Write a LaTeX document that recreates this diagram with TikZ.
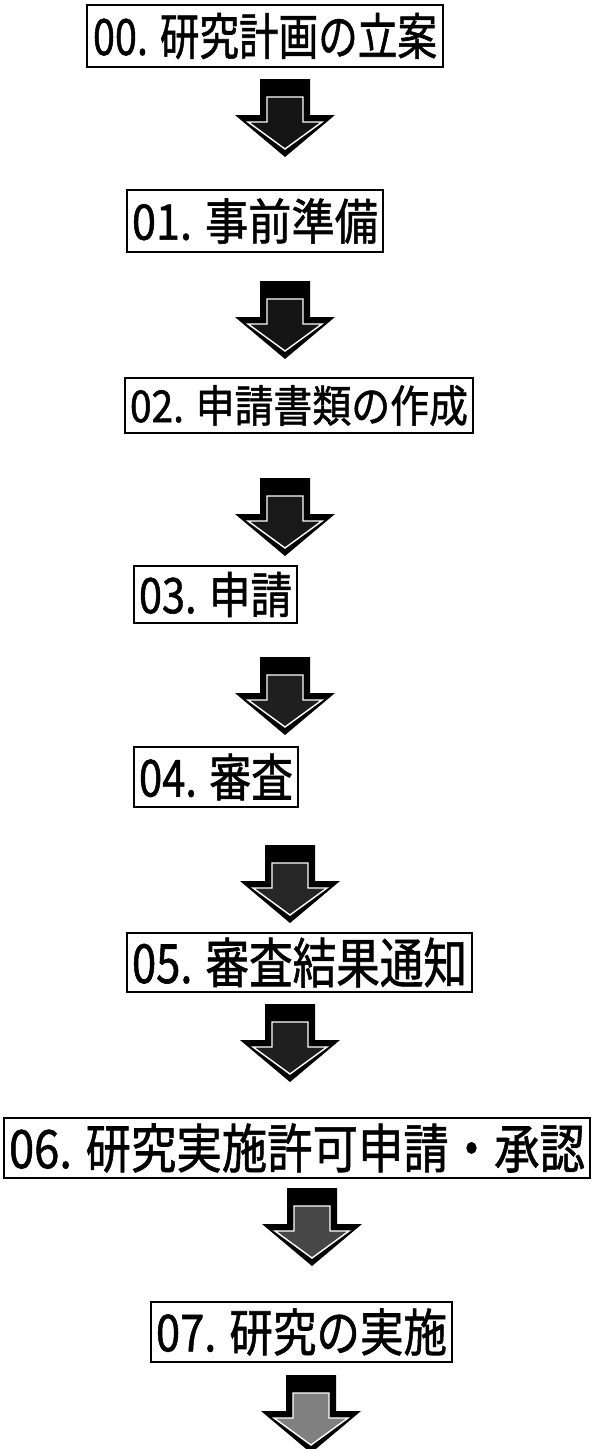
\documentclass[tikz,border=0pt]{standalone}
\usepackage{fontspec}
\setmainfont{Noto Sans CJK JP}[FakeBold=1.2]
\usepackage{graphicx}
\newcommand{\fitt}[3]{\resizebox{#1pt}{\height}{\fontsize{#2pt}{#2pt}\selectfont #3}}
\newcommand{\gp}{\hspace{0.3em}}
\tikzset{
  stepbox/.style={draw=black, line width=2pt, inner sep=0pt, fill=white},
  pics/darrow/.style={code={
    \fill[black] (-25,0) -- (25,0) -- (25,36) -- (50,36) -- (0,78) -- (-50,36) -- (-25,36) -- cycle;
    \filldraw[fill=#1, draw=white, line width=1.4pt, line join=miter]
      (-18,18) -- (18,18) -- (18,43) -- (37,43) -- (0,70) -- (-37,43) -- (-18,43) -- cycle;
  }},
}
\begin{document}
\begin{tikzpicture}[x=1pt,y=-1pt]
\useasboundingbox[fill=white] (0,0) rectangle (593,1449);
% boxes: centre = ((x1+x2)/2,(y1+y2)/2)
\node[stepbox, minimum width=356pt, minimum height=62pt] (b0) at (265,36)
  {\fitt{344}{50}{00.\gp 研究計画の立案}};
\node[stepbox, minimum width=256pt, minimum height=62pt] (b1) at (255,221)
  {\fitt{246}{49}{01.\gp 事前準備}};
\node[stepbox, minimum width=348pt, minimum height=55pt] (b2) at (299,405.5)
  {\fitt{338}{44}{02.\gp 申請書類の作成}};
\node[stepbox, minimum width=163pt, minimum height=57pt] (b3) at (215.5,594.5)
  {\fitt{153}{49}{03.\gp 申請}};
\node[stepbox, minimum width=164pt, minimum height=60pt] (b4) at (216,777)
  {\fitt{154}{51}{04.\gp 審査}};
\node[stepbox, minimum width=345pt, minimum height=59pt] (b5) at (299.5,962.5)
  {\fitt{335}{54}{05.\gp 審査結果通知}};
\node[stepbox, minimum width=586pt, minimum height=60pt] (b6) at (297,1148)
  {\fitt{576}{53}{06.\gp 研究実施許可申請・承認}};
\node[stepbox, minimum width=301pt, minimum height=60pt] (b7) at (301.5,1332)
  {\fitt{291}{51}{07.\gp 研究の実施}};
% block arrows
\pic (a0) at (285,79) {darrow=black!92};
\pic (a1) at (285,281) {darrow=black!92};
\pic (a2) at (285,478) {darrow=black!90};
\pic (a3) at (285,657) {darrow=black!88};
\pic (a4) at (290,845) {darrow=black!85};
\pic (a5) at (290,1004) {darrow=black!88};
\pic (a6) at (312,1188) {darrow=black!72};
\pic (a7) at (311,1375) {darrow=black!50};
\end{tikzpicture}
\end{document}
